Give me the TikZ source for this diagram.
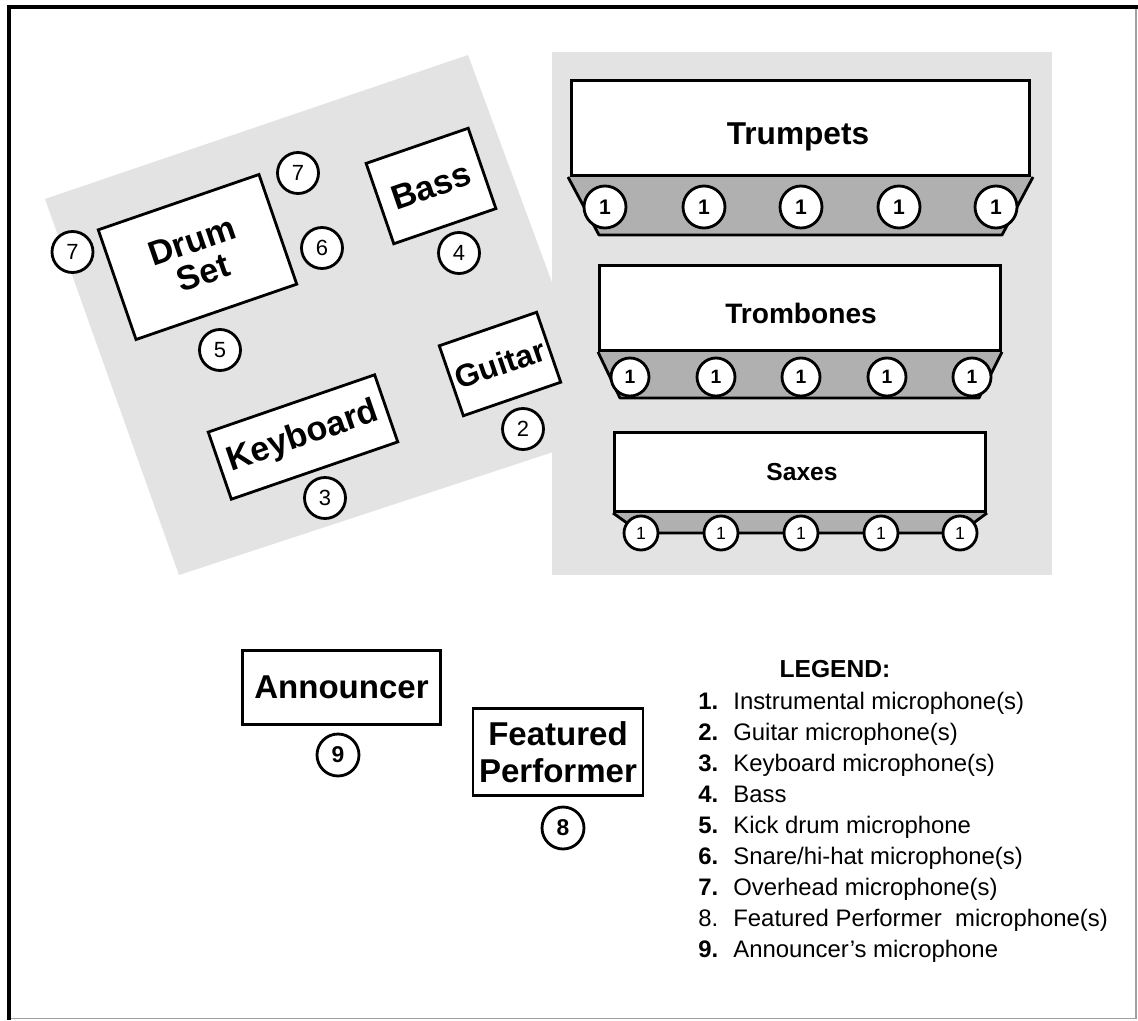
\documentclass[tikz,border=0pt]{standalone}
\usepackage{fontspec}
\setmainfont{Liberation Sans}
\definecolor{panel}{HTML}{E3E3E3}
\definecolor{strip}{HTML}{B0B0B0}
\definecolor{edge}{HTML}{A0A0A0}
\begin{document}
\begin{tikzpicture}[x=0.02cm,y=-0.02cm,
  box/.style={draw=black,line width=1.6pt,fill=white,inner sep=0pt,align=center},
  rbox/.style={box,rotate=19},
  bigtxt/.style={font=\fontsize{19.5}{19}\selectfont\bfseries},
  mic/.style={circle,draw=black,line width=1.6pt,fill=white,inner sep=0pt,minimum size=0.82cm,font=\fontsize{12.5}{12.5}\selectfont},
  micb/.style={mic,font=\fontsize{12}{12}\selectfont\bfseries},
  tmic/.style={micb,minimum size=0.84cm},
  bmic/.style={micb,minimum size=0.76cm,font=\fontsize{11}{11}\selectfont\bfseries},
  smic/.style={mic,minimum size=0.68cm,font=\fontsize{10}{10}\selectfont},
  stripline/.style={draw=black,line width=1.6pt,line join=round},
  legnum/.style={anchor=base west,inner sep=0pt,font=\fontsize{13.6}{15}\selectfont\bfseries},
  legtxt/.style={anchor=base west,inner sep=0pt,font=\fontsize{13.6}{15}\selectfont}
]
\useasboundingbox (0,0) rectangle (1138,1020);
\fill[white] (0,0) rectangle (1138,1020);
% frame
\draw[edge,line width=0.8pt] (1136,7) -- (1136,1018.5) -- (9,1018.5);
\draw[black,line width=2.8pt] (9,1020) -- (9,7) -- (1138,7);

% stage areas
\fill[panel] (45,199) -- (468,55) -- (608,434) -- (179,575) -- cycle;
\fill[panel] (552,52) rectangle (1052,575);

% rotated rhythm section
\node[rbox,bigtxt,minimum width=3.40cm,minimum height=2.32cm] (drum) at (197.5,257) {Drum\\Set};
\node[rbox,bigtxt,minimum width=2.16cm,minimum height=1.70cm] (bass) at (431,186) {Bass};
\node[rbox,font=\fontsize{18}{18}\selectfont\bfseries,minimum width=2.06cm,minimum height=1.48cm] (guitar) at (500,364) {Guitar};
\node[rbox,bigtxt,minimum width=3.52cm,minimum height=1.42cm] (keyboard) at (303,437) {Keyboard};

\node[mic] (m7a) at (72.5,252) {7};
\node[mic] (m7b) at (298,173) {7};
\node[mic] (m6) at (322,248) {6};
\node[mic] (m4) at (459,253) {4};
\node[mic] (m5) at (220,350) {5};
\node[mic] (m2) at (523,429) {2};
\node[mic] (m3) at (325,498) {3};

% Trumpets
\fill[strip] (568,177) -- (1033,177) -- (1002,235) -- (599,235) -- cycle;
\draw[stripline] (568,177) -- (599,235) -- (1002,235) -- (1033,177);
\node[box,minimum width=9.16cm,minimum height=1.90cm] (trumpets) at (800.5,128) {};
\node[font=\fontsize{18}{18}\selectfont\bfseries] (trumpetsT) at (798,137) {Trumpets};
\foreach \x [count=\i] in {605,704,801,899,996}
  \node[tmic] (t\i) at (\x,207) {1};

% Trombones
\fill[strip] (598,352) -- (1002,352) -- (979,398) -- (620,398) -- cycle;
\draw[stripline] (598,352) -- (620,398) -- (979,398) -- (1002,352);
\node[box,minimum width=8.02cm,minimum height=1.70cm] (trombones) at (800,308) {};
\node[font=\fontsize{16}{16}\selectfont\bfseries] (trombonesT) at (801,313) {Trombones};
\foreach \x [count=\i] in {630,716,801,887,972}
  \node[bmic] (b\i) at (\x,377) {1};

% Saxes
\fill[strip] (613,513) -- (987,513) -- (960,533) -- (641,533) -- cycle;
\draw[stripline] (613,513) -- (641,533) -- (960,533) -- (987,513);
\node[box,minimum width=7.42cm,minimum height=1.58cm] (saxes) at (800,472) {};
\node[font=\fontsize{14}{14}\selectfont\bfseries] (saxesT) at (802,472) {Saxes};
\foreach \x [count=\i] in {641,721,801,881,960}
  \node[smic] (s\i) at (\x,533) {1};

% Announcer & featured performer
\node[box,font=\fontsize{18.8}{18.8}\selectfont\bfseries,minimum width=3.96cm,minimum height=1.48cm] (announcer) at (341.5,687.5) {Announcer};
\node[micb,minimum size=0.84cm,font=\fontsize{13}{13}\selectfont\bfseries] (m9) at (338,755) {9};
\node[box,font=\fontsize{18.8}{21}\selectfont\bfseries,minimum width=3.40cm,minimum height=1.74cm] (featured) at (558,752) {Featured\\Performer};
\node[micb,minimum size=0.84cm,font=\fontsize{13}{13}\selectfont\bfseries] (m8) at (563,828) {8};

% Legend
\node[anchor=base,inner sep=0pt,font=\fontsize{14}{14}\selectfont\bfseries] (legend) at (835,677) {LEGEND:};
\node[legnum] (n1) at (698,709) {1.};
\node[legtxt] (l1) at (733,709) {Instrumental microphone(s)};
\node[legnum] (n2) at (698,740) {2.};
\node[legtxt] (l2) at (733,740) {Guitar microphone(s)};
\node[legnum] (n3) at (698,771) {3.};
\node[legtxt] (l3) at (733,771) {Keyboard microphone(s)};
\node[legnum] (n4) at (698,802) {4.};
\node[legtxt] (l4) at (733,802) {Bass};
\node[legnum] (n5) at (698,833) {5.};
\node[legtxt] (l5) at (733,833) {Kick drum microphone};
\node[legnum] (n6) at (698,864) {6.};
\node[legtxt] (l6) at (733,864) {Snare/hi-hat microphone(s)};
\node[legnum] (n7) at (698,895) {7.};
\node[legtxt] (l7) at (733,895) {Overhead microphone(s)};
\node[legtxt] (n8) at (698,926) {8.};
\node[legtxt] (l8) at (733,926) {Featured Performer\ \ microphone(s)};
\node[legnum] (n9) at (698,957) {9.};
\node[legtxt] (l9) at (733,957) {Announcer’s microphone};
\end{tikzpicture}
\end{document}
